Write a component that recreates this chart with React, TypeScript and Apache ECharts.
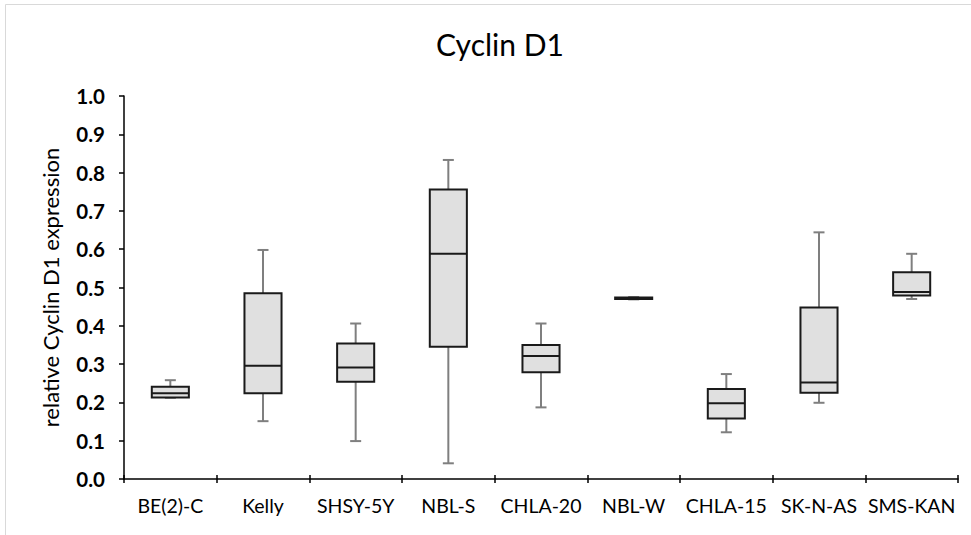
import React, { useEffect, useRef } from "react";
import * as echarts from "echarts";

const categories = ["BE(2)-C", "Kelly", "SHSY-5Y", "NBL-S", "CHLA-20", "NBL-W", "CHLA-15", "SK-N-AS", "SMS-KAN"];
const minValues = [0.212, 0.151, 0.099, 0.041, 0.187, 0.469, 0.122, 0.199, 0.470];
const q1Values = [0.213, 0.224, 0.254, 0.345, 0.279, 0.470, 0.158, 0.225, 0.479];
const medianValues = [0.224, 0.296, 0.291, 0.588, 0.321, 0.472, 0.198, 0.252, 0.488];
const q3Values = [0.241, 0.485, 0.354, 0.756, 0.350, 0.474, 0.235, 0.448, 0.540];
const maxValues = [0.258, 0.598, 0.406, 0.833, 0.406, 0.475, 0.274, 0.644, 0.588];
const yTicks = { min: 0, max: 1, interval: 0.1 };

const FONT = "Lato";

export default function App() {
  const ref = useRef<HTMLDivElement>(null);
  useEffect(() => {
    document.body.style.margin = "0";
    if (!ref.current) return;
    const chart = echarts.init(ref.current, null, { renderer: "svg" });
    const data = categories.map((_, i) => [i, minValues[i], q1Values[i], medianValues[i], q3Values[i], maxValues[i]]);
    chart.setOption({
      animation: false,
      backgroundColor: "#ffffff",
      title: {
        text: "Cyclin D1",
        left: 495,
        top: 24,
        textAlign: "center",
        textStyle: { fontFamily: FONT, fontSize: 30, fontWeight: "normal", color: "#000" },
      },
      graphic: [
        {
          type: "rect",
          shape: { x: 5.5, y: 4.5, width: 1100, height: 1100 },
          style: { fill: "none", stroke: "#d9d9d9", lineWidth: 1 },
          silent: true,
        },
      ],
      grid: { left: 124, right: 13, top: 96, bottom: 56, containLabel: false },
      xAxis: [
        {
          type: "category",
          data: categories,
          boundaryGap: true,
          axisLine: { lineStyle: { color: "#000", width: 1.5 } },
          axisTick: { show: true, length: 4, interval: 0, lineStyle: { color: "#000", width: 1.5 } },
          axisLabel: { fontFamily: FONT, fontSize: 19.5, color: "#000", margin: 16, interval: 0 },
          splitLine: { show: false },
        },
        {
          type: "category",
          data: categories,
          position: "bottom",
          boundaryGap: true,
          axisLine: { show: false },
          axisTick: { show: true, inside: true, interval: 0, length: 4, lineStyle: { color: "#000", width: 1.5 } },
          axisLabel: { show: false },
          splitLine: { show: false },
        },
      ],
      yAxis: {
        type: "value",
        min: yTicks.min,
        max: yTicks.max,
        interval: yTicks.interval,
        name: "relative Cyclin D1 expression",
        nameLocation: "middle",
        nameGap: 63,
        nameTextStyle: { fontFamily: FONT, fontSize: 22, color: "#000" },
        axisLine: { show: true, lineStyle: { color: "#000", width: 1.5 } },
        axisTick: { show: true, length: 5, lineStyle: { color: "#000", width: 1.5 } },
        axisLabel: {
          fontFamily: FONT,
          fontSize: 20.5,
          fontWeight: "bold",
          color: "#000",
          margin: 19,
          formatter: (v: number) => v.toFixed(1),
        },
        splitLine: { show: false },
      },
      series: [
        {
          type: "custom",
          xAxisIndex: 0,
          yAxisIndex: 0,
          data,
          encode: { x: 0, y: [1, 2, 3, 4, 5] },
          renderItem: (params: any, api: any) => {
            const idx = api.value(0);
            const pMin = api.coord([idx, api.value(1)]);
            const pQ1 = api.coord([idx, api.value(2)]);
            const pMed = api.coord([idx, api.value(3)]);
            const pQ3 = api.coord([idx, api.value(4)]);
            const pMax = api.coord([idx, api.value(5)]);
            const bandW = api.size([1, 0])[0];
            const bw = bandW * 0.4;
            const cx = pMed[0];
            const capW = 11;
            const gray = "#7f7f7f";
            const dark = "#1a1a1a";
            return {
              type: "group",
              children: [
                { type: "line", shape: { x1: cx, y1: pQ3[1], x2: cx, y2: pMax[1] }, style: { stroke: gray, lineWidth: 2 } },
                { type: "line", shape: { x1: cx, y1: pQ1[1], x2: cx, y2: pMin[1] }, style: { stroke: gray, lineWidth: 2 } },
                { type: "line", shape: { x1: cx - capW / 2, y1: pMax[1], x2: cx + capW / 2, y2: pMax[1] }, style: { stroke: gray, lineWidth: 2 } },
                { type: "line", shape: { x1: cx - capW / 2, y1: pMin[1], x2: cx + capW / 2, y2: pMin[1] }, style: { stroke: gray, lineWidth: 2 } },
                {
                  type: "rect",
                  shape: { x: cx - bw / 2, y: pQ3[1], width: bw, height: pQ1[1] - pQ3[1] },
                  style: { fill: "#e0e0e0", stroke: dark, lineWidth: 2 },
                },
                { type: "line", shape: { x1: cx - bw / 2, y1: pMed[1], x2: cx + bw / 2, y2: pMed[1] }, style: { stroke: dark, lineWidth: 2 } },
              ],
            };
          },
        },
      ],
    });
    return () => chart.dispose();
  }, []);
  return <div ref={ref} style={{ width: 971, height: 535 }} />;
}
